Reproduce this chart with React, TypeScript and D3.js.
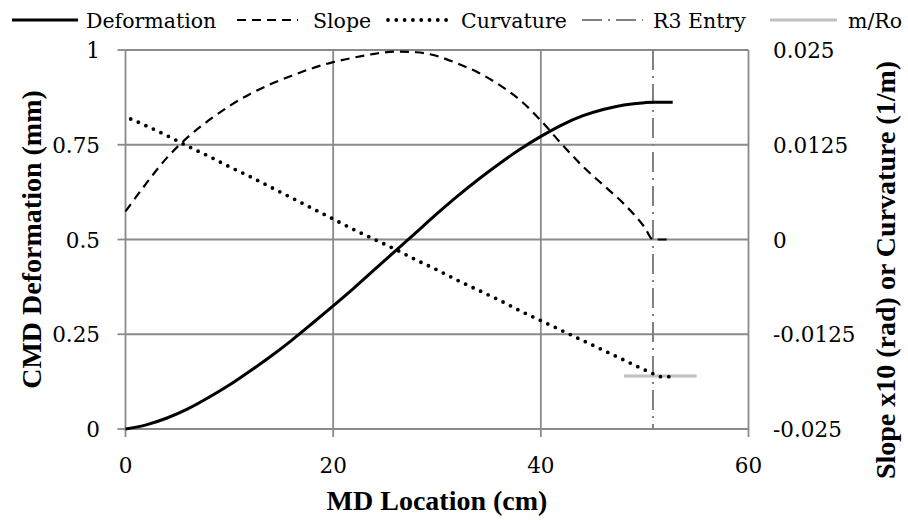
import React from "react";
import * as d3 from "d3";

// MD location (cm) sampled along the member
const mdLocation = [0, 2, 4, 6, 8, 10, 12, 14, 16, 18, 20, 22, 24, 26, 28, 30, 32, 34, 36, 38, 40, 42, 44, 46, 48, 50, 50.8, 52.7];
// CMD deformation (mm), left axis
const deformation = [0, 0.011, 0.029, 0.053, 0.083, 0.116, 0.153, 0.192, 0.234, 0.279, 0.325, 0.372, 0.421, 0.47, 0.519, 0.568, 0.615, 0.659, 0.7, 0.738, 0.772, 0.802, 0.826, 0.843, 0.855, 0.861, 0.862, 0.862];
// Slope x10 (rad), right axis
const slope = [0.0037, 0.0074, 0.0108, 0.0135, 0.0157, 0.0176, 0.0192, 0.0205, 0.0216, 0.0226, 0.0234, 0.024, 0.0245, 0.0248, 0.0247, 0.0242, 0.0232, 0.022, 0.0204, 0.0184, 0.0157, 0.0126, 0.0097, 0.0072, 0.0047, 0.0016, 0, 0];

// Curvature (1/m), right axis
const curvatureLocation = [0.5, 2, 4, 6, 8, 10, 12, 14, 16, 18, 20, 22, 24, 26, 28, 30, 32, 34, 36, 38, 40, 42, 44, 46, 48, 50, 50.8, 51.5, 52.7];
const curvature = [0.0159, 0.015, 0.0137, 0.0123, 0.011, 0.0096, 0.0083, 0.0069, 0.0055, 0.0041, 0.0027, 0.0013, 0.0, -0.0013, -0.0027, -0.004, -0.0054, -0.0067, -0.008, -0.0094, -0.0107, -0.012, -0.0133, -0.0146, -0.0159, -0.0172, -0.0177, -0.0181, -0.0181];

// R3 entry location (cm)
const r3EntryLocation = 50.8;
// m/Ro reference level (1/m) and its extent (cm)
const mRoLocation = [48, 55];
const mRoValue = -0.018;

const xTicks = [0, 20, 40, 60];
const leftTicks = [0, 0.25, 0.5, 0.75, 1];
const leftTickLabels = ["0", "0.25", "0.5", "0.75", "1"];
const rightTicks = [-0.025, -0.0125, 0, 0.0125, 0.025];
const rightTickLabels = ["-0.025", "-0.0125", "0", "0.0125", "0.025"];

const legendLabels = ["Deformation", "Slope", "Curvature", "R3 Entry", "m/Ro"];

const W = 908;
const H = 520;
const BODY_FONT = "DejaVu Serif";
const TITLE_FONT = "Liberation Serif";

export default function App() {
  const left = 125.5, right = 748.5, top = 50, bottom = 429;
  const x = d3.scaleLinear().domain([0, 60]).range([left, right]);
  const yL = d3.scaleLinear().domain([0, 1]).range([bottom, top]);
  const yR = d3.scaleLinear().domain([-0.025, 0.025]).range([bottom, top]);

  const line = d3.line<[number, number]>().curve(d3.curveMonotoneX);
  const defPath = line(mdLocation.map((m, i) => [x(m), yL(deformation[i])]))!;
  const slopePath = line(mdLocation.map((m, i) => [x(m), yR(slope[i])]))!;
  const curvPath = line(curvatureLocation.map((m, i) => [x(m), yR(curvature[i])]))!;

  const grid = "#8a8a8a";
  const styles = [
    { stroke: "#000", width: 3, dash: undefined as string | undefined, cap: "butt" },
    { stroke: "#000", width: 2.2, dash: "9 6", cap: "butt" },
    { stroke: "#000", width: 3.8, dash: "0 8.3", cap: "round" },
    { stroke: "#808080", width: 2, dash: "20 6 2 6", cap: "butt" },
    { stroke: "#c0c0c0", width: 3, dash: undefined, cap: "butt" },
  ];
  const legendPos = [
    { x1: 12, x2: 78, tx: 86 },
    { x1: 237, x2: 298, tx: 313 },
    { x1: 388, x2: 448, tx: 461 },
    { x1: 582, x2: 643, tx: 653 },
    { x1: 770, x2: 837, tx: 848 },
  ];

  return (
    <svg width={W} height={H} style={{ position: "absolute", left: 0, top: 0, background: "#fff" }}>
      <rect width={W} height={H} fill="#fff" />
      {/* grid */}
      {leftTicks.map((t) => (
        <line key={"h" + t} x1={left} x2={right} y1={yL(t)} y2={yL(t)} stroke={grid} strokeWidth={1.8} />
      ))}
      {leftTicks.map((t) => (
        <line key={"lt" + t} x1={left - 8} x2={left} y1={yL(t)} y2={yL(t)} stroke={grid} strokeWidth={1.8} />
      ))}
      {xTicks.map((t) => (
        <line key={"v" + t} x1={x(t)} x2={x(t)} y1={top} y2={bottom + 8} stroke={grid} strokeWidth={1.8} />
      ))}

      {/* R3 entry marker */}
      <line x1={x(r3EntryLocation)} x2={x(r3EntryLocation)} y1={top} y2={bottom} stroke="#808080" strokeWidth={2} strokeDasharray="20 6 2 6" />
      {/* m/Ro level */}
      <line x1={x(mRoLocation[0])} x2={x(mRoLocation[1])} y1={yR(mRoValue)} y2={yR(mRoValue)} stroke="#c0c0c0" strokeWidth={3} />

      {/* series */}
      <path d={defPath} fill="none" stroke="#000" strokeWidth={3} />
      <path d={slopePath} fill="none" stroke="#000" strokeWidth={2.2} strokeDasharray="9 6" />
      <path d={curvPath} fill="none" stroke="#000" strokeWidth={3.8} strokeDasharray="0 8.3" strokeLinecap="round" />

      {/* axis labels */}
      {leftTicks.map((t, i) => (
        <text key={"ll" + t} fontFamily={BODY_FONT} x={100} y={yL(t) + 8} textAnchor="end" fontSize={21.5}>{leftTickLabels[i]}</text>
      ))}
      {rightTicks.map((t, i) => (
        <text key={"rl" + t} fontFamily={BODY_FONT} x={773} y={yR(t) + 8} textAnchor="start" fontSize={21.5}>{rightTickLabels[i]}</text>
      ))}
      {xTicks.map((t) => (
        <text key={"xl" + t} fontFamily={BODY_FONT} x={x(t)} y={473} textAnchor="middle" fontSize={21.5}>{t}</text>
      ))}

      <text fontFamily={TITLE_FONT} x={(left + right) / 2} y={510} textAnchor="middle" fontSize={28} fontWeight="bold">MD Location (cm)</text>
      <text fontFamily={TITLE_FONT} transform={`translate(41,${(top + bottom) / 2}) rotate(-90)`} textAnchor="middle" fontSize={28} fontWeight="bold">CMD Deformation (mm)</text>
      <text fontFamily={TITLE_FONT} transform={`translate(895,270) rotate(-90)`} textAnchor="middle" fontSize={28} fontWeight="bold">Slope x10 (rad) or Curvature (1/m)</text>

      {/* legend */}
      {legendLabels.map((lab, i) => (
        <g key={lab}>
          <line x1={legendPos[i].x1} x2={legendPos[i].x2} y1={20} y2={20} stroke={styles[i].stroke} strokeWidth={styles[i].width} strokeDasharray={styles[i].dash} strokeLinecap={styles[i].cap as any} />
          <text fontFamily={BODY_FONT} x={legendPos[i].tx} y={28} fontSize={20.5}>{lab}</text>
        </g>
      ))}
    </svg>
  );
}
